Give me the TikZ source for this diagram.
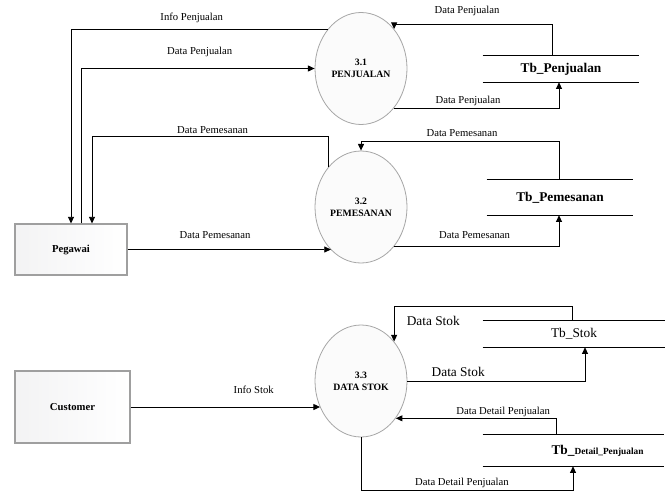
\documentclass[tikz,border=0pt]{standalone}
\usepackage{fontspec}
\setmainfont{Liberation Serif}
\usetikzlibrary{arrows.meta, positioning, shapes.geometric, calc}

\begin{document}
\begin{tikzpicture}[x=0.75pt, y=-0.75pt, font=\fontsize{8}{9.5}\selectfont, proc/.style={ellipse, draw=gray!70, line width=0.6pt, fill=blue!2!gray!3, minimum width=69pt, minimum height=84pt, inner sep=0pt, align=center, font=\fontsize{7.3}{9}\selectfont\bfseries}, ent/.style={draw=gray!75, line width=0.8pt, left color=blue!4!gray!9, right color=white, font=\fontsize{8}{9}\selectfont\bfseries}, store/.style={inner sep=0pt, font=\fontsize{10}{12}\selectfont\bfseries}, ar/.style={-{Triangle[length=5pt, width=4.5pt]}, line width=0.7pt}, lbl/.style={inner sep=1pt}]
\useasboundingbox (0,0) rectangle (670,492);
\node[proc] (p31) at (361,68.5) {3.1\\PENJUALAN};
\node[proc] (p32) at (361,207) {3.2\\PEMESANAN};
\node[proc] (p33) at (361,381) {3.3\\DATA STOK};
\node[ent, minimum width=84pt, minimum height=38.25pt] (peg) at (71,249.5) {Pegawai};
\node[ent, minimum width=86.25pt, minimum height=54pt] (cust) at (72.5,407) {Customer};
\node[store, minimum width=117pt, minimum height=19.5pt] (tbjual) at (561,69) {Tb\_Penjualan};
\node[store, minimum width=109.5pt, minimum height=26.25pt] (tbpesan) at (560,197.5) {Tb\_Pemesanan};
\node[store, minimum width=136.5pt, minimum height=19.5pt, font=\fontsize{10}{12}\selectfont] (tbstok) at (574,334) {Tb\_Stok};
\node[store, minimum width=135.75pt, minimum height=23.25pt, label={[xshift=18pt, font=\fontsize{10}{12}\selectfont\bfseries]center:Tb\_{\fontsize{7}{8}\selectfont Detail\_Penjualan}}] (tbdetail) at (573.5,450.5) {};
\foreach \s in {tbjual, tbpesan, tbstok, tbdetail} \draw[line width=0.7pt] (\s.north west) -- (\s.north east) (\s.south west) -- (\s.south east);
% pegawai
\draw[ar] (p31.130) -| (peg.north) node[lbl, pos=0.265, above=3.6pt] {Info Penjualan};
\draw[ar] ($(peg.north)+(10,0)$) |- (p31.west) node[lbl, pos=0.754, above=7.4pt] {Data Penjualan};
\draw[ar] (p32.129) -- ++(0,-30) -| ($(peg.north)+(21,0)$) node[lbl, pos=0.245, above=1.4pt] {Data Pemesanan};
\draw[ar] (peg.east) -- (peg.east -| p32.235) node[lbl, pos=0.43, above=7pt] {Data Pemesanan};
% tabel
\draw[ar] ($(tbjual.north)+(-9,0)$) -- ++(0,-31) -| (p31.50) node[lbl, pos=0.269, above=5pt] {Data Penjualan};
\draw[ar] (p31.310) -| ($(tbjual.south)+(-2,0)$) node[lbl, pos=0.224, above=0.6pt] {Data Penjualan};
\draw[ar] ($(tbpesan.north)+(-1,0)$) -- ++(0,-38) -| (p32.north) node[lbl, pos=0.245, above=2.5pt] {Data Pemesanan};
\draw[ar] (p32.310) -| ($(tbpesan.south)+(-1,0)$) node[lbl, pos=0.244, above=4.4pt] {Data Pemesanan};
\draw[ar] ($(tbstok.north)+(-2,0)$) -- ++(0,-14) -| (p33.50) node[lbl, pos=0.39, below=6pt, font=\fontsize{10}{12}\selectfont] {Data Stok};
\draw[ar] (p33.east) -| ($(tbstok.south)+(11,0)$) node[lbl, pos=0.143, above=1.6pt, font=\fontsize{10}{12}\selectfont] {Data Stok};
\draw[ar] ($(tbdetail.north)+(-17,0)$) |- (p33.313) node[lbl, pos=0.666, above=0pt] {Data Detail Penjualan};
\draw[ar] (p33.south) -- ++(0,53) -| ($(tbdetail.south)+(-0.5,0)$) node[lbl, pos=0.238, above=1pt] {Data Detail Penjualan};
% customer
\draw[ar] (cust.east) -- (cust.east -| p33.213) node[lbl, pos=0.65, above=9pt] {Info Stok};
\end{tikzpicture}
\end{document}
